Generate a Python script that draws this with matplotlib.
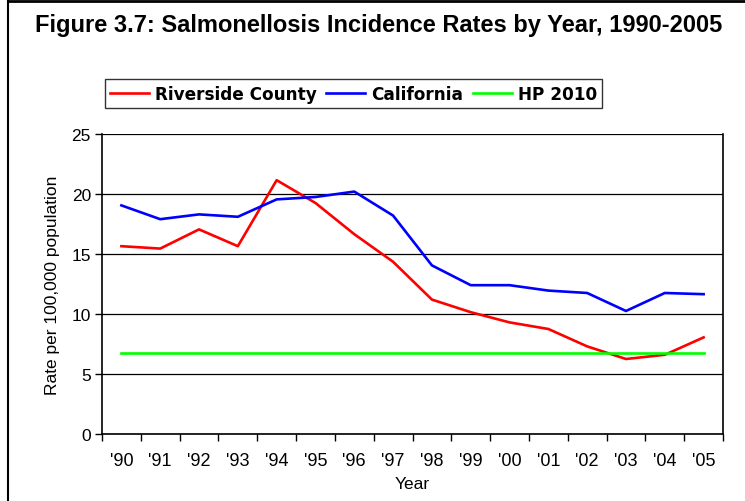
import matplotlib.pyplot as plt
from matplotlib.lines import Line2D

plt.rcParams['font.family'] = ['Liberation Sans', 'DejaVu Sans']

years = ["'90", "'91", "'92", "'93", "'94", "'95", "'96", "'97",
         "'98", "'99", "'00", "'01", "'02", "'03", "'04", "'05"]
riverside = [15.65, 15.45, 17.05, 15.65, 21.15, 19.25, 16.65, 14.35,
             11.2, 10.15, 9.3, 8.75, 7.3, 6.25, 6.6, 8.05]
california = [19.05, 17.9, 18.3, 18.1, 19.55, 19.75, 20.2, 18.2,
              14.05, 12.4, 12.4, 11.95, 11.75, 10.25, 11.75, 11.65]
hp2010 = [6.75] * len(years)

fig = plt.figure(figsize=(7.45, 5.02), dpi=100)
ax = fig.add_axes([0.1369, 0.1335, 0.8336, 0.5976])

x = list(range(len(years)))
ax.plot(x, riverside, color="#ff0000", lw=1.9, label="Riverside County")
ax.plot(x, california, color="#0000ff", lw=1.9, label="California")
ax.plot(x, hp2010, color="#00ff00", lw=1.9, label="HP 2010")

ax.set_xlim(-0.5, len(years) - 0.5)
ax.set_ylim(0, 25)
ax.set_yticks([0, 5, 10, 15, 20, 25])
ax.yaxis.grid(True, color="black", lw=0.9)
ax.set_axisbelow(True)

# ticks between categories, labels centred
ax.set_xticks([i - 0.5 for i in range(len(years) + 1)])
ax.set_xticklabels([])
ax.set_xticks(x, minor=True)
ax.set_xticklabels(years, minor=True)
ax.tick_params(axis="x", which="major", length=5, width=1, direction="out")
ax.tick_params(axis="x", which="minor", length=0, pad=13, labelsize=13)
ax.tick_params(axis="y", length=5, width=1, labelsize=12.5, pad=3)

for s in ["left", "bottom", "right"]:
    ax.spines[s].set_linewidth(1.2)
ax.spines["top"].set_visible(False)

ax.set_xlabel("Year", fontsize=12.5, labelpad=5)
ax.set_ylabel("Rate per 100,000 population", fontsize=12.5, labelpad=8)

fig.text(0.508, 0.950, "Figure 3.7: Salmonellosis Incidence Rates by Year, 1990-2005",
         ha="center", va="center", fontsize=17, fontweight="bold")

leg = ax.legend(loc="lower left", bbox_to_anchor=(105 / 745, (502 - 109) / 502),
                bbox_transform=fig.transFigure, ncol=3, frameon=True,
                fancybox=False, edgecolor="black", handlelength=2.3,
                handletextpad=0.35, columnspacing=0.55, borderpad=0.32,
                borderaxespad=0,
                prop={"family": "DejaVu Sans", "weight": "bold", "size": 12.2})
leg.get_frame().set_linewidth(1.0)

# outer frame of the figure
fig.add_artist(Line2D([8 / 745, 8 / 745], [0, 1], color="black", lw=1.5,
                      transform=fig.transFigure))
fig.add_artist(Line2D([8 / 745, 1], [0.997, 0.997], color="black", lw=2,
                      transform=fig.transFigure))

fig.savefig("out.png", dpi=100)
